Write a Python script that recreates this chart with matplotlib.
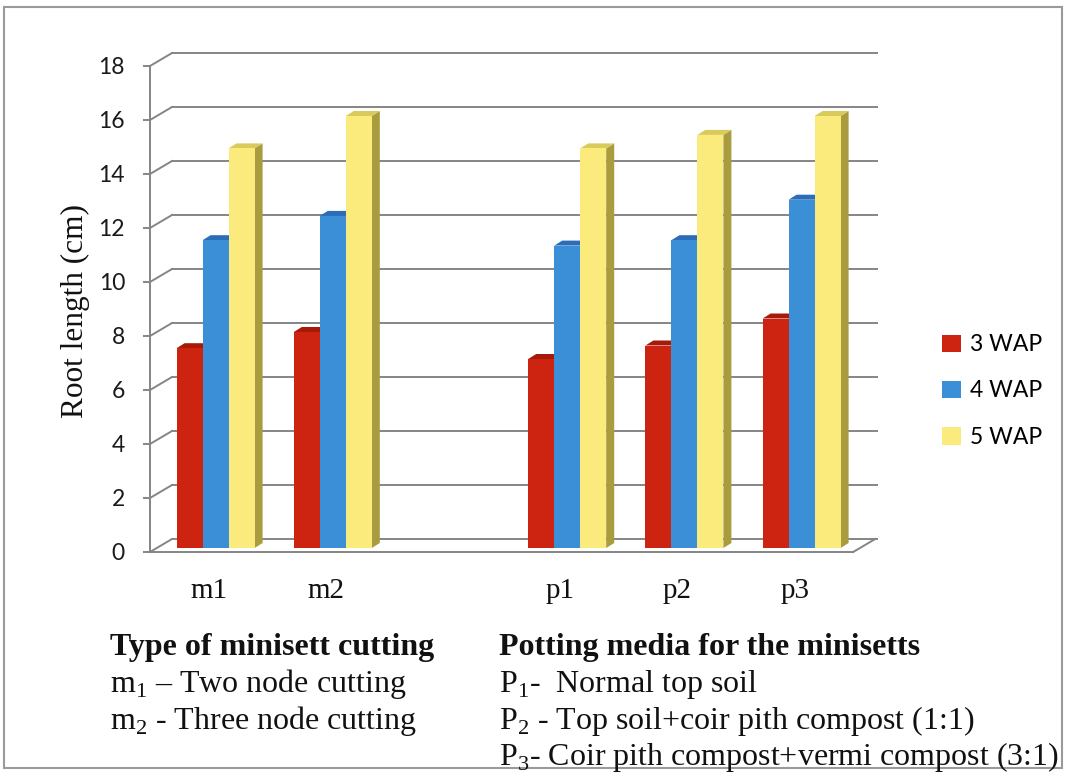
import matplotlib
matplotlib.use("Agg")
import matplotlib.pyplot as plt
from matplotlib.patches import Polygon, Rectangle, Patch

plt.rcParams['mathtext.fontset'] = 'custom'
plt.rcParams['mathtext.rm'] = 'Liberation Serif'

categories = ['m1', 'm2', '', 'p1', 'p2', 'p3']
series = ['3 WAP', '4 WAP', '5 WAP']
wap3 = [7.4, 8.0, None, 7.0, 7.5, 8.5]
wap4 = [11.4, 12.3, None, 11.2, 11.4, 12.9]
wap5 = [14.8, 16.0, None, 14.8, 15.3, 16.0]
yticks = [0, 2, 4, 6, 8, 10, 12, 14, 16, 18]

front = ['#CC2410', '#3B8FD6', '#FBEB7C']
top = ['#A81A08', '#2A6DB8', '#D8CB5A']
side = ['#8E1505', '#24609E', '#A89C3E']
grid_c = '#858585'

W, H = 1067, 775
fig = plt.figure(figsize=(W / 100, H / 100), dpi=100)

# pixel geometry of the plot area
px_left, px_right, px_zero = 150, 877, 552
px_cat, px_unit = 117.2, 27.0
ymax = (px_zero - 53) / px_unit
xmax = (px_right - px_left) / px_cat
ax = fig.add_axes([px_left / W, 1 - px_zero / H,
                   (px_right - px_left) / W, (px_zero - 53) / H])
ax.set_xlim(0, xmax)
ax.set_ylim(0, ymax)

# depth offsets (data units)
wdx, wdy = 22 / px_cat, 13 / px_unit      # back wall
bdx, bdy = 7 / px_cat, 4 / px_unit        # bar front face
sdx, sdy = 8 / px_cat, 5 / px_unit        # bar depth
bw = 26 / px_cat

# back wall grid
for v in yticks:
    ax.plot([0, wdx], [v, v + wdy], color=grid_c, lw=1.4, zorder=1, clip_on=False)
    ax.plot([wdx, xmax], [v + wdy, v + wdy], color=grid_c, lw=1.4, zorder=1, clip_on=False)
n = len(categories)
ax.plot([n, n + wdx], [0, wdy], color=grid_c, lw=1.4, zorder=1, clip_on=False)

# 3d-ish bars
for i in range(n):
    vals = [wap3[i], wap4[i], wap5[i]]
    if vals[0] is None:
        continue
    x0 = i + 0.5 - 1.5 * bw + bdx
    for k, v in enumerate(vals):
        xl = x0 + k * bw
        xr = xl + bw
        b = bdy
        t = bdy + v
        ax.add_patch(Polygon([(xr, b), (xr + sdx, b + sdy), (xr + sdx, t + sdy), (xr, t)],
                             closed=True, fc=side[k], ec='none', zorder=3 + k))
        ax.add_patch(Polygon([(xl, t), (xr, t), (xr + sdx, t + sdy), (xl + sdx, t + sdy)],
                             closed=True, fc=top[k], ec='none', zorder=3 + k))
        ax.add_patch(Rectangle((xl, b), bw, v, fc=front[k], ec='none', zorder=3 + k))

for s in ['top', 'right']:
    ax.spines[s].set_visible(False)
ax.spines['left'].set_bounds(0, 18)
ax.spines['bottom'].set_bounds(0, n)
for s in ['left', 'bottom']:
    ax.spines[s].set_color(grid_c)
    ax.spines[s].set_linewidth(1.4)

ax.set_yticks(yticks)
ax.set_yticklabels([str(v) for v in yticks], family='Lato', fontsize=16.5, color='#1a1a1a')
ax.tick_params(axis='y', length=5, color=grid_c, width=1.4, pad=13)
ax.set_xticks([i + 0.5 for i in range(n)])
ax.set_xticklabels(categories, family='Liberation Serif', fontsize=21, color='#111111')
ax.tick_params(axis='x', length=0, pad=19)

fig.text(75 / W, 1 - 311 / H, 'Root length (cm)', rotation=90, ha='center', va='center',
         family='Liberation Serif', fontsize=22.5, color='#111111')

handles = [Patch(fc=front[k], ec='none') for k in range(3)]
fig.legend(handles, series, loc='center left', bbox_to_anchor=(931 / W, 1 - 391 / H),
           frameon=False, prop={'family': 'Lato', 'size': 16.5}, handlelength=0.8,
           handleheight=0.8, handletextpad=0.4, labelspacing=1.1, borderpad=0)

# notes below the chart
serif = 'Liberation Serif'
fs = 23
fig.text(110 / W, 1 - 655 / H, 'Type of minisett cutting', family=serif, weight='bold',
         fontsize=fs, va='baseline', color='#111111')
fig.text(110 / W, 1 - 692 / H, r'm$_\mathrm{1}$ – Two node cutting', family=serif,
         fontsize=fs, va='baseline', color='#111111')
fig.text(110 / W, 1 - 729 / H, r'm$_\mathrm{2}$ - Three node cutting', family=serif,
         fontsize=fs, va='baseline', color='#111111')
fig.text(499 / W, 1 - 655 / H, 'Potting media for the minisetts', family=serif, weight='bold',
         fontsize=fs, va='baseline', color='#111111')
fig.text(499 / W, 1 - 692 / H, r'P$_\mathrm{1}$-  Normal top soil', family=serif,
         fontsize=fs, va='baseline', color='#111111')
fig.text(499 / W, 1 - 729 / H, r'P$_\mathrm{2}$ - Top soil+coir pith compost (1:1)', family=serif,
         fontsize=fs, va='baseline', color='#111111')
fig.text(499 / W, 1 - 765 / H, r'P$_\mathrm{3}$- Coir pith compost+vermi compost (3:1)', family=serif,
         fontsize=fs, va='baseline', color='#111111')

# outer chart border
fig.add_artist(Rectangle((4 / W, 1 - 768 / H), (1062 - 4) / W, (768 - 7) / H,
                         transform=fig.transFigure, fill=False, ec='#9A9A9A', lw=1.5))

fig.savefig('out.png', dpi=100)
